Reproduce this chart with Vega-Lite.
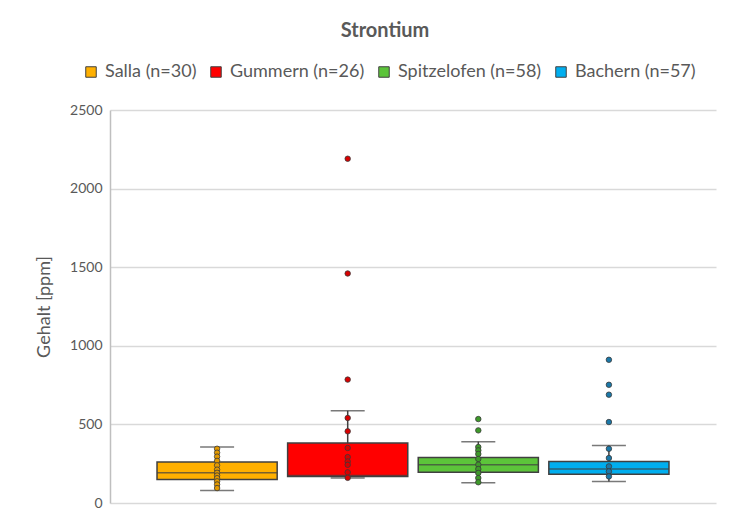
{
  "$schema": "https://vega.github.io/schema/vega-lite/v6.json",
  "width": 606,
  "height": 393,
  "autosize": "none",
  "padding": {"left": 110, "top": 110, "right": 36, "bottom": 14},
  "background": "white",
  "config": {
    "font": "Lato",
    "view": {"stroke": null}
  },
  "title": {
    "text": "Strontium",
    "frame": "group",
    "anchor": "middle",
    "dx": -28,
    "fontSize": 20,
    "fontWeight": "bold",
    "color": "#595959",
    "offset": 22
  },
  "datasets": {
    "boxes": [
      {"site": "Salla (n=30)", "lo": 80, "q1": 150, "med": 192, "q3": 261, "hi": 356},
      {"site": "Gummern (n=26)", "lo": 159, "q1": 169, "med": 175, "q3": 382, "hi": 587},
      {"site": "Spitzelofen (n=58)", "lo": 129, "q1": 195, "med": 244, "q3": 290, "hi": 390},
      {"site": "Bachern (n=57)", "lo": 137, "q1": 183, "med": 216, "q3": 264, "hi": 366}
    ],
    "points": [
      {"site": "Salla (n=30)", "v": 345},
      {"site": "Salla (n=30)", "v": 320},
      {"site": "Salla (n=30)", "v": 295},
      {"site": "Salla (n=30)", "v": 268},
      {"site": "Salla (n=30)", "v": 240},
      {"site": "Salla (n=30)", "v": 212},
      {"site": "Salla (n=30)", "v": 192},
      {"site": "Salla (n=30)", "v": 175},
      {"site": "Salla (n=30)", "v": 158},
      {"site": "Salla (n=30)", "v": 138},
      {"site": "Salla (n=30)", "v": 118},
      {"site": "Salla (n=30)", "v": 95},
      {"site": "Gummern (n=26)", "v": 2190},
      {"site": "Gummern (n=26)", "v": 1460},
      {"site": "Gummern (n=26)", "v": 785},
      {"site": "Gummern (n=26)", "v": 541},
      {"site": "Gummern (n=26)", "v": 456},
      {"site": "Gummern (n=26)", "v": 350},
      {"site": "Gummern (n=26)", "v": 292},
      {"site": "Gummern (n=26)", "v": 264},
      {"site": "Gummern (n=26)", "v": 243},
      {"site": "Gummern (n=26)", "v": 195},
      {"site": "Gummern (n=26)", "v": 160},
      {"site": "Spitzelofen (n=58)", "v": 534},
      {"site": "Spitzelofen (n=58)", "v": 462},
      {"site": "Spitzelofen (n=58)", "v": 356},
      {"site": "Spitzelofen (n=58)", "v": 335},
      {"site": "Spitzelofen (n=58)", "v": 312},
      {"site": "Spitzelofen (n=58)", "v": 280},
      {"site": "Spitzelofen (n=58)", "v": 244},
      {"site": "Spitzelofen (n=58)", "v": 216},
      {"site": "Spitzelofen (n=58)", "v": 191},
      {"site": "Spitzelofen (n=58)", "v": 159},
      {"site": "Spitzelofen (n=58)", "v": 132},
      {"site": "Bachern (n=57)", "v": 911},
      {"site": "Bachern (n=57)", "v": 752},
      {"site": "Bachern (n=57)", "v": 689},
      {"site": "Bachern (n=57)", "v": 515},
      {"site": "Bachern (n=57)", "v": 345},
      {"site": "Bachern (n=57)", "v": 286},
      {"site": "Bachern (n=57)", "v": 233},
      {"site": "Bachern (n=57)", "v": 201},
      {"site": "Bachern (n=57)", "v": 169}
    ]
  },
  "encoding": {
    "x": {
      "field": "site",
      "type": "nominal",
      "sort": ["Salla (n=30)", "Gummern (n=26)", "Spitzelofen (n=58)", "Bachern (n=57)"],
      "scale": {"paddingInner": 0.08, "paddingOuter": 0.36},
      "axis": {"labels": false, "ticks": false, "domain": false, "title": null}
    }
  },
  "layer": [
    {
      "data": {"name": "boxes"},
      "mark": {"type": "rule", "color": "#404040", "strokeWidth": 1.5},
      "encoding": {
        "y": {
          "field": "lo",
          "type": "quantitative",
          "scale": {"domain": [0, 2500], "padding": 0, "nice": false, "zero": true},
          "axis": {
            "values": [0, 500, 1000, 1500, 2000, 2500],
            "format": "d",
            "title": "Gehalt [ppm]",
            "titleFontSize": 18,
            "titleFontWeight": "normal",
            "titleColor": "#595959",
            "titlePadding": 16,
            "labelFontSize": 14,
            "labelColor": "#595959",
            "labelPadding": 8,
            "ticks": false,
            "domain": true,
            "domainColor": "#BFBFBF",
            "domainWidth": 1.5,
            "gridColor": "#D9D9D9",
            "gridWidth": 1.5
          }
        },
        "y2": {"field": "hi"}
      }
    },
    {
      "data": {"name": "boxes"},
      "mark": {"type": "bar", "stroke": "#404040", "strokeWidth": 1.5, "width": {"band": 1}},
      "encoding": {
        "y": {"field": "q1", "type": "quantitative"},
        "y2": {"field": "q3"},
        "color": {
          "field": "site",
          "type": "nominal",
          "sort": ["Salla (n=30)", "Gummern (n=26)", "Spitzelofen (n=58)", "Bachern (n=57)"],
          "scale": {"range": ["#FFB000", "#FF0000", "#5CC43A", "#00AEEF"]},
          "legend": {
            "orient": "none",
            "legendX": -28,
            "legendY": -47,
            "direction": "horizontal",
            "title": null,
            "symbolType": "square",
            "symbolSize": 110,
            "symbolStrokeColor": "#404040",
            "symbolStrokeWidth": 1,
            "symbolOpacity": 1,
            "labelFontSize": 18,
            "labelColor": "#595959",
            "labelLimit": 300,
            "columnPadding": 10,
            "labelOffset": 5
          }
        }
      }
    },
    {
      "data": {"name": "boxes"},
      "mark": {"type": "tick", "color": "#404040", "thickness": 1.5, "size": 120},
      "encoding": {"y": {"field": "med", "type": "quantitative"}}
    },
    {
      "data": {"name": "boxes"},
      "mark": {"type": "tick", "color": "#404040", "thickness": 1.5, "size": 34},
      "encoding": {"y": {"field": "hi", "type": "quantitative"}}
    },
    {
      "data": {"name": "boxes"},
      "mark": {"type": "tick", "color": "#404040", "thickness": 1.5, "size": 34},
      "encoding": {"y": {"field": "lo", "type": "quantitative"}}
    },
    {
      "data": {"name": "points"},
      "mark": {"type": "point", "filled": false, "shape": "circle", "size": 30, "stroke": "#3a3a3a", "strokeWidth": 0.8, "opacity": 1},
      "encoding": {
        "y": {"field": "v", "type": "quantitative"},
        "fill": {
          "field": "site",
          "type": "nominal",
          "scale": {
            "domain": ["Salla (n=30)", "Gummern (n=26)", "Spitzelofen (n=58)", "Bachern (n=57)"],
            "range": ["#E39A00", "#D90000", "#3E9A2A", "#1B78A8"]
          },
          "legend": null
        }
      }
    }
  ]
}
